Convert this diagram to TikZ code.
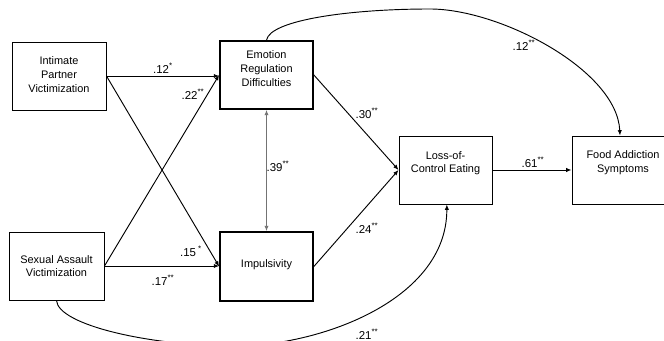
\documentclass[tikz,border=0pt]{standalone}
\usepackage{fontspec}
\setmainfont{Liberation Sans}
\usetikzlibrary{arrows.meta,calc}
\begin{document}
\begin{tikzpicture}[x=0.75pt,y=-0.75pt,
  box/.style={draw,line width=0.7pt,minimum width=69.75pt,minimum height=51pt,inner sep=0pt},
  tbox/.style={draw,line width=1.3pt,minimum width=69.75pt,minimum height=51pt,inner sep=0pt},
  txt/.style={font=\fontsize{8.2}{10.2}\selectfont,align=center,inner sep=0pt},
  lab/.style={font=\fontsize{8.6}{10}\selectfont,inner sep=0pt},
  arr/.style={line width=0.7pt,-{Latex[length=4pt,width=3.2pt]}}]
\clip (0,0) rectangle (664,341);
% boxes
\node[box,minimum width=70.5pt] (IPV) at (59,76) {};
\node[txt] (IPVt) at (59,74.5) {Intimate\\Partner\\Victimization};
\node[tbox] (ERD) at (266.5,75) {};
\node[txt] (ERDt) at (266.5,68.5) {Emotion\\Regulation\\Difficulties};
\node[box,minimum width=71.25pt] (SAV) at (56.5,266) {};
\node[txt] (SAVt) at (56.5,266) {Sexual Assault\\Victimization};
\node[tbox,minimum height=51.75pt] (IMP) at (266.5,266.5) {};
\node[txt] (IMPt) at (266.5,265) {Impulsivity};
\node[box] (LOC) at (445.5,170) {};
\node[txt] (LOCt) at (445.5,163) {Loss-of-\\Control Eating};
\node[box,minimum width=76.5pt] (FAS) at (623,170) {};
\node[txt] (FASt) at (623,162.5) {Food Addiction\\Symptoms};
% connectors
\draw[arr] (IPV.east) -- (IPV.east -| ERD.west);
\draw[arr] (IPV.east) -- (IMP.west);
\draw[arr] (SAV.east) -- (ERD.west);
\draw[arr] (SAV.east) -- (SAV.east -| IMP.west);
\draw[line width=0.7pt,black!55,{Latex[length=4pt,width=3.2pt]}-{Latex[length=4pt,width=3.2pt]}] (ERD.south) -- (IMP.north);
\draw[arr] (ERD.east) -- (LOC.west);
\draw[arr] (IMP.east) -- (LOC.west);
\draw[arr] (LOC.east) -- (FAS.west);
\draw[arr] (ERD.north) .. controls (270,20) and (350,9) .. (430,9) .. controls (500,9) and (617,70) .. ([xshift=-2.25pt]FAS.north);
\draw[arr] (SAV.south) .. controls (58,325) and (150,346) .. (235,346) .. controls (320,346) and (447,300) .. ([xshift=1pt]LOC.south);
% labels
\node[lab] (l1) at (163,68) {.12\textsuperscript{*}};
\node[lab] (l2) at (193,94) {.22\textsuperscript{**}};
\node[lab] (l3) at (191,251) {.15\,\textsuperscript{*}};
\node[lab] (l4) at (163,280) {.17\textsuperscript{**}};
\node[lab] (l5) at (278,166) {.39\textsuperscript{**}};
\node[lab] (l6) at (367,113) {.30\textsuperscript{**}};
\node[lab] (l7) at (367,228) {.24\textsuperscript{**}};
\node[lab] (l8) at (533,162) {.61\textsuperscript{**}};
\node[lab] (l9) at (524,45) {.12\textsuperscript{**}};
\node[lab] (l10) at (367,334) {.21\textsuperscript{**}};
\end{tikzpicture}
\end{document}
